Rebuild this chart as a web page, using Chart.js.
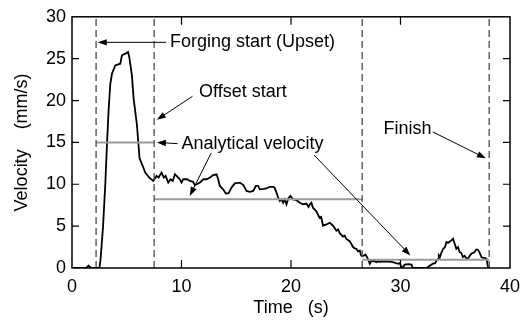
<!DOCTYPE html>
<html>
<head>
<meta charset="utf-8">
<script src="https://cdn.jsdelivr.net/npm/chart.js@4.4.1/dist/chart.umd.min.js"></script>
<style>
  html, body { margin: 0; padding: 0; background: #fff; }
  #wrap { width: 528px; height: 324px; }
</style>
</head>
<body>
<div id="wrap"><canvas id="myChart" width="528" height="324"></canvas></div>
<script>
// measured velocity (s, mm/s)
const time = [0, 1.3, 1.5, 1.65, 1.8, 2.5, 2.6, 2.83, 3.04, 3.2, 3.35, 3.5, 3.65, 3.95, 4.41, 4.56, 4.87, 5.11, 5.23, 5.47,
  5.63, 5.93, 6.17, 6.39, 6.69, 7.06, 7.42, 7.72, 7.9, 8.18, 8.39, 8.55, 8.79, 9.0, 9.2, 9.4, 9.7, 9.85, 10.0, 10.16,
  10.5, 10.77, 11.05, 11.22, 11.4, 11.68, 12.0, 12.29, 12.6, 12.9, 13.2, 13.35, 13.5, 13.8, 14.05, 14.3, 14.57, 14.87, 15.33, 15.65,
  15.94, 16.25, 16.55, 16.79, 17.0, 17.15, 17.5, 17.76, 18.07, 18.37, 18.5, 18.68, 18.83, 18.98, 19.13, 19.28, 19.43, 19.59, 19.75, 19.95,
  20.19, 20.5, 20.8, 21.1, 21.4, 21.6, 21.72, 21.87, 22.0, 22.3, 22.45, 22.6, 22.75, 22.93, 23.24, 23.54, 23.84, 24.15, 24.3, 24.45,
  24.75, 24.9, 25.06, 25.36, 25.5, 25.67, 25.82, 25.97, 26.12, 26.28, 26.4, 26.55, 26.8, 27.0, 27.2, 27.35, 27.5, 27.65, 27.8, 27.95,
  28.1, 28.4, 28.7, 29.0, 29.3, 29.8, 29.95, 30.08, 30.23, 30.38, 30.7, 31.0, 31.1, 31.4, 32.4, 32.7, 33.0, 33.15, 33.3, 33.45,
  33.5, 33.6, 33.7, 33.9, 34.05, 34.2, 34.35, 34.5, 34.65, 34.8, 34.95, 35.1, 35.25, 35.4, 35.55, 35.7, 35.85, 36.0, 36.15, 36.3,
  36.47, 36.6, 36.77, 36.9, 37.05, 37.2, 37.4, 37.55, 37.7, 37.85, 38.0, 38.1]
const velocity = [0, 0, 0.3, 0.1, 0, 0, 0.9, 4.85, 10.0, 15, 19.0, 22.0, 23.2, 24.2, 24.4, 25.4, 25.6, 25.8, 25.2, 23.0,
  20.2, 17.1, 13.1, 12.4, 11.4, 10.8, 10.4, 11.0, 10.8, 11.4, 10.8, 11.0, 10.2, 10.6, 10.4, 11.2, 10.8, 10.6, 10.2, 10.6,
  10.6, 10.4, 10.3, 9.9, 10.0, 10.2, 10.6, 10.6, 10.8, 11.1, 11.2, 10.6, 9.8, 9.4, 8.9, 8.95, 9.6, 10.1, 10.2, 9.9,
  9.2, 9.1, 9.2, 9.8, 9.8, 9.4, 9.45, 9.5, 9.7, 9.7, 9.6, 9.0, 8.4, 8.0, 8.2, 7.8, 8.2, 7.6, 8.3, 8.6,
  8.2, 8.1, 7.8, 7.6, 7.7, 7.3, 7.6, 7.8, 7.2, 6.8, 6.4, 6.0, 6.1, 5.05, 5.2, 5.4, 5.05, 4.46, 4.6, 4.15,
  3.75, 3.85, 3.48, 3.2, 2.9, 2.5, 2.35, 2.3, 2.0, 2.1, 1.5, 1.4, 1.6, 1.15, 0.5, 0.9, 0.8, 0.83, 0.7, 0.8,
  0.75, 0.8, 0.75, 0.75, 0.7, 0.5, 0.6, 0.1, 0.1, 0.4, 0.45, 0.4, 0.05, 0, 0, 0.3, 0.55, 0.55, 0.9, 1.1,
  1.5, 1.3, 1.7, 2.3, 2.45, 3.1, 3.0, 3.16, 3.3, 3.5, 2.9, 2.3, 2.5, 1.9, 1.8, 1.3, 1.45, 1.2, 1.1, 1.4,
  1.7, 1.8, 1.9, 2.2, 2.2, 1.9, 1.3, 1.2, 1.2, 1.1, 0.1, 0]

// event markers (dashed verticals)
const eventTimes = [2.2, 7.5, 26.5, 38.1]

// analytical velocity steps
const stepStart = [2.2, 7.5, 26.5]
const stepEnd = [7.5, 26.5, 38.1]
const stepValue = [15, 8.2, 1.0]

const xTicks = [0, 10, 20, 30, 40]
const yTicks = [0, 5, 10, 15, 20, 25, 30]

const FONT = '"Liberation Sans", Arial, Helvetica, sans-serif'

// annotation texts and arrows, positions in data units
const notes = [
  { text: "Forging start (Upset)", x: 8.95, y: 26.95 },
  { text: "Offset start", x: 11.6, y: 21.0 },
  { text: "Analytical velocity", x: 10.0, y: 14.8 },
  { text: "Finish", x: 28.45, y: 16.6 }
]
const arrows = [
  [8.6, 26.95, 2.35, 26.95],
  [11.0, 20.5, 7.75, 17.7],
  [9.65, 14.85, 7.75, 15.0],
  [12.7, 13.7, 10.75, 8.6],
  [22.1, 13.5, 30.9, 1.5],
  [32.95, 16.25, 37.8, 13.1]
]

const velocityPoints = time.map((t, i) => ({ x: t, y: velocity[i] }))

const datasets = []
eventTimes.forEach(t => {
  datasets.push({
    data: [{ x: t, y: 0 }, { x: t, y: 30 }],
    borderColor: "#4a4a4a",
    borderWidth: 1.3,
    borderDash: [7, 4],
    showLine: true,
    pointRadius: 0
  })
})
stepValue.forEach((v, i) => {
  datasets.push({
    data: [{ x: stepStart[i], y: v }, { x: stepEnd[i], y: v }],
    borderColor: "#9a9a9a",
    borderWidth: 2,
    showLine: true,
    pointRadius: 0
  })
})
datasets.push({
  data: velocityPoints,
  borderColor: "#000",
  borderWidth: 1.8,
  showLine: true,
  pointRadius: 0,
  tension: 0
})

function drawArrow(ctx, x1, y1, x2, y2) {
  const a = Math.atan2(y2 - y1, x2 - x1)
  const len = 9, half = 3.2
  ctx.beginPath()
  ctx.moveTo(x1, y1)
  ctx.lineTo(x2 - Math.cos(a) * len * 0.8, y2 - Math.sin(a) * len * 0.8)
  ctx.stroke()
  ctx.beginPath()
  ctx.moveTo(x2, y2)
  ctx.lineTo(x2 - Math.cos(a) * len - Math.sin(a) * half, y2 - Math.sin(a) * len + Math.cos(a) * half)
  ctx.lineTo(x2 - Math.cos(a) * len + Math.sin(a) * half, y2 - Math.sin(a) * len - Math.cos(a) * half)
  ctx.closePath()
  ctx.fill()
}

const decorPlugin = {
  id: "decor",
  afterDatasetsDraw(chart) {
    const ctx = chart.ctx
    const xs = chart.scales.x, ys = chart.scales.y
    ctx.save()
    ctx.fillStyle = "#000"
    ctx.strokeStyle = "#000"
    ctx.lineWidth = 1
    arrows.forEach(a => {
      drawArrow(ctx, xs.getPixelForValue(a[0]), ys.getPixelForValue(a[1]),
        xs.getPixelForValue(a[2]), ys.getPixelForValue(a[3]))
    })
    ctx.font = "18px " + FONT
    ctx.textBaseline = "middle"
    ctx.textAlign = "left"
    notes.forEach(n => {
      ctx.fillText(n.text, xs.getPixelForValue(n.x), ys.getPixelForValue(n.y))
    })
    ctx.restore()
  },
  afterDraw(chart) {
    const ctx = chart.ctx
    const area = chart.chartArea
    const xs = chart.scales.x, ys = chart.scales.y
    ctx.save()
    ctx.strokeStyle = "#000"
    ctx.lineWidth = 1.5
    ctx.strokeRect(area.left, area.top, area.right - area.left, area.bottom - area.top)
    ctx.lineWidth = 1.2
    ctx.beginPath()
    xTicks.slice(1, -1).forEach(v => {
      const px = xs.getPixelForValue(v)
      ctx.moveTo(px, area.bottom); ctx.lineTo(px, area.bottom - 8)
      ctx.moveTo(px, area.top); ctx.lineTo(px, area.top + 8)
    })
    yTicks.slice(1, -1).forEach(v => {
      const py = ys.getPixelForValue(v)
      ctx.moveTo(area.left, py); ctx.lineTo(area.left + 7, py)
      ctx.moveTo(area.right, py); ctx.lineTo(area.right - 7, py)
    })
    ctx.stroke()
    ctx.restore()
  }
}

new Chart(document.querySelector("#myChart"), {
  type: "scatter",
  data: { datasets: datasets },
  options: {
    responsive: false,
    animation: false,
    devicePixelRatio: 1,
    layout: { padding: { top: 14, right: 17, left: 0, bottom: 0 } },
    plugins: { legend: { display: false }, tooltip: { enabled: false } },
    scales: {
      x: {
        type: "linear",
        min: 0, max: 40,
        afterFit: s => { s.height = 56 },
        afterBuildTicks: s => { s.ticks = xTicks.map(v => ({ value: v })) },
        grid: { display: false, drawTicks: false, tickLength: 0 },
        border: { display: false },
        ticks: { color: "#000", padding: 8, font: { family: FONT, size: 18 } },
        title: { display: true, text: "Time   (s)", color: "#000", padding: { top: 0, bottom: 5 }, font: { family: FONT, size: 18 } }
      },
      y: {
        min: 0, max: 30,
        afterFit: s => { s.width = 72 },
        afterBuildTicks: s => { s.ticks = yTicks.map(v => ({ value: v })) },
        grid: { display: false, drawTicks: false, tickLength: 0 },
        border: { display: false },
        ticks: { color: "#000", padding: 6, font: { family: FONT, size: 18 } },
        title: { display: true, text: "Velocity    (mm/s)", color: "#000", padding: { top: 11, bottom: 0 }, font: { family: FONT, size: 18 } }
      }
    }
  },
  plugins: [decorPlugin]
})
</script>
</body>
</html>
